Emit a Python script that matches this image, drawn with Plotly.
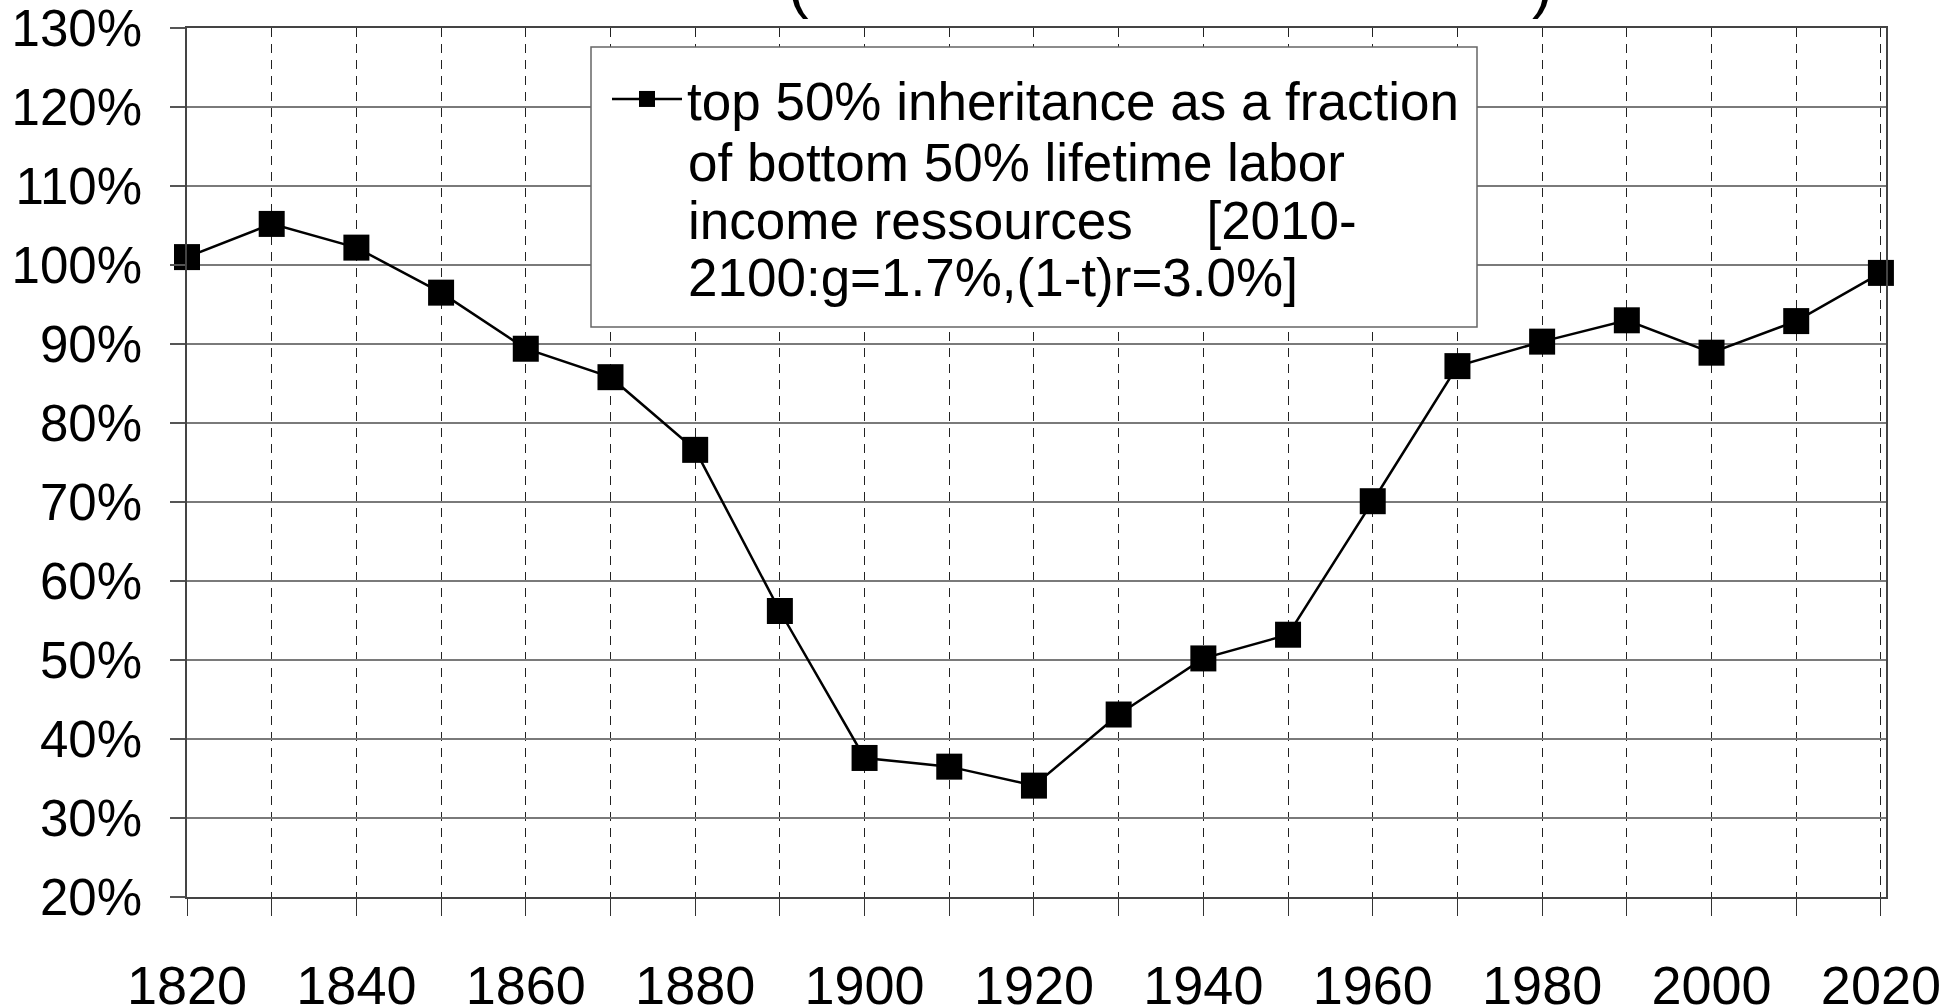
import plotly.graph_objects as go

# ---- data ----
years = [1820, 1830, 1840, 1850, 1860, 1870, 1880, 1890, 1900, 1910, 1920,
         1930, 1940, 1950, 1960, 1970, 1980, 1990, 2000, 2010, 2020]
ratio_pct = [101.0, 105.2, 102.2, 96.5, 89.4, 85.8, 76.6, 56.2, 37.6, 36.5, 34.1,
             43.1, 50.2, 53.2, 70.1, 87.2, 90.3, 93.0, 88.9, 92.9, 99.0]

x_tick_vals = list(range(1820, 2021, 10))
x_tick_text = ["1820", "", "1840", "", "1860", "", "1880", "", "1900", "", "1920",
               "", "1940", "", "1960", "", "1980", "", "2000", "", "2020"]
y_tick_vals = [20, 30, 40, 50, 60, 70, 80, 90, 100, 110, 120, 130]
y_tick_text = ["20%", "30%", "40%", "50%", "60%", "70%", "80%", "90%",
               "100%", "110%", "120%", "130%"]

nb = "\u00a0"
legend_lines = ["top 50% inheritance as a fraction",
                "of bottom 50% lifetime labor",
                "income ressources" + nb * 5 + "[2010-",
                "2100:g=1.7%,(1-t)r=3.0%]"]

FONT = "Liberation Sans, Arial, sans-serif"

# layout geometry (pixels)
W, H = 1959, 1005
ML, MR, MT, MB = 187, 73, 28, 108
PW, PH = W - ML - MR, H - MT - MB


def px_x(px):
    return (px - ML) / PW


def px_y(py):
    return 1 - (py - MT) / PH


fig = go.Figure()
fig.add_trace(go.Scatter(
    x=years, y=ratio_pct, name=legend_lines[0], mode="lines+markers",
    line=dict(color="black", width=2.5),
    marker=dict(symbol="square", size=26, color="black"),
    cliponaxis=False, showlegend=True,
))

fig.update_layout(
    width=W, height=H,
    margin=dict(l=ML, r=MR, t=MT, b=MB, autoexpand=False),
    paper_bgcolor="white", plot_bgcolor="white",
    font=dict(family=FONT, color="black"),
    showlegend=True,
    legend=dict(
        x=px_x(597), y=px_y(58), xanchor="left", yanchor="top",
        bgcolor="rgba(0,0,0,0)", borderwidth=0,
        font=dict(family=FONT, size=53, color="black"),
        valign="top", itemwidth=70, indentation=10,
    ),
    xaxis=dict(
        range=[1820, 2020.6], tickmode="array", automargin=False,
        tickvals=x_tick_vals, ticktext=x_tick_text,
        showgrid=True, gridcolor="#222222", gridwidth=1, griddash="9px,7px",
        ticks="outside", ticklen=17, tickcolor="#333333", tickwidth=1,
        tickfont=dict(family=FONT, size=54, color="black"),
        ticklabelstandoff=23, ticklabeloverflow="allow",
        showline=True, linecolor="#444444", linewidth=1.5, mirror=True,
        zeroline=False,
    ),
    yaxis=dict(
        range=[20, 130], tickmode="array", automargin=False,
        tickvals=y_tick_vals, ticktext=y_tick_text,
        showgrid=True, gridcolor="#7a7a7a", gridwidth=2,
        ticks="outside", ticklen=15, tickcolor="#555555", tickwidth=1.5,
        tickfont=dict(family=FONT, size=51, color="black"),
        ticklabelstandoff=18, ticklabeloverflow="allow",
        showline=True, linecolor="#444444", linewidth=1.5, mirror=True,
        zeroline=False,
    ),
)

# legend frame (white box hiding the grid behind the legend)
fig.add_shape(type="rect", xref="paper", yref="paper", layer="above",
              x0=px_x(591), x1=px_x(1477), y0=px_y(327), y1=px_y(47),
              fillcolor="white", line=dict(color="#666666", width=1.5))

# continuation lines of the legend entry
for i, txt in enumerate(legend_lines[1:]):
    baseline = 181.2 + i * 57.4
    fig.add_annotation(x=px_x(686), y=px_y(baseline - 18.4),
                       xref="paper", yref="paper", text=txt,
                       showarrow=False, xanchor="left", yanchor="middle",
                       font=dict(family=FONT, size=53, color="black"))

# partially visible title (only the bottoms of the brackets are in frame)
for xp, ch in [(0.36, "("), (0.805, ")")]:
    fig.add_annotation(x=xp, y=1, xref="paper", yref="paper", text=ch,
                       showarrow=False, yanchor="bottom", yshift=7,
                       font=dict(family=FONT, size=62, color="black"))

fig.write_html("out.html", config={"displayModeBar": False},
               post_script="document.body.style.margin='0px';")
